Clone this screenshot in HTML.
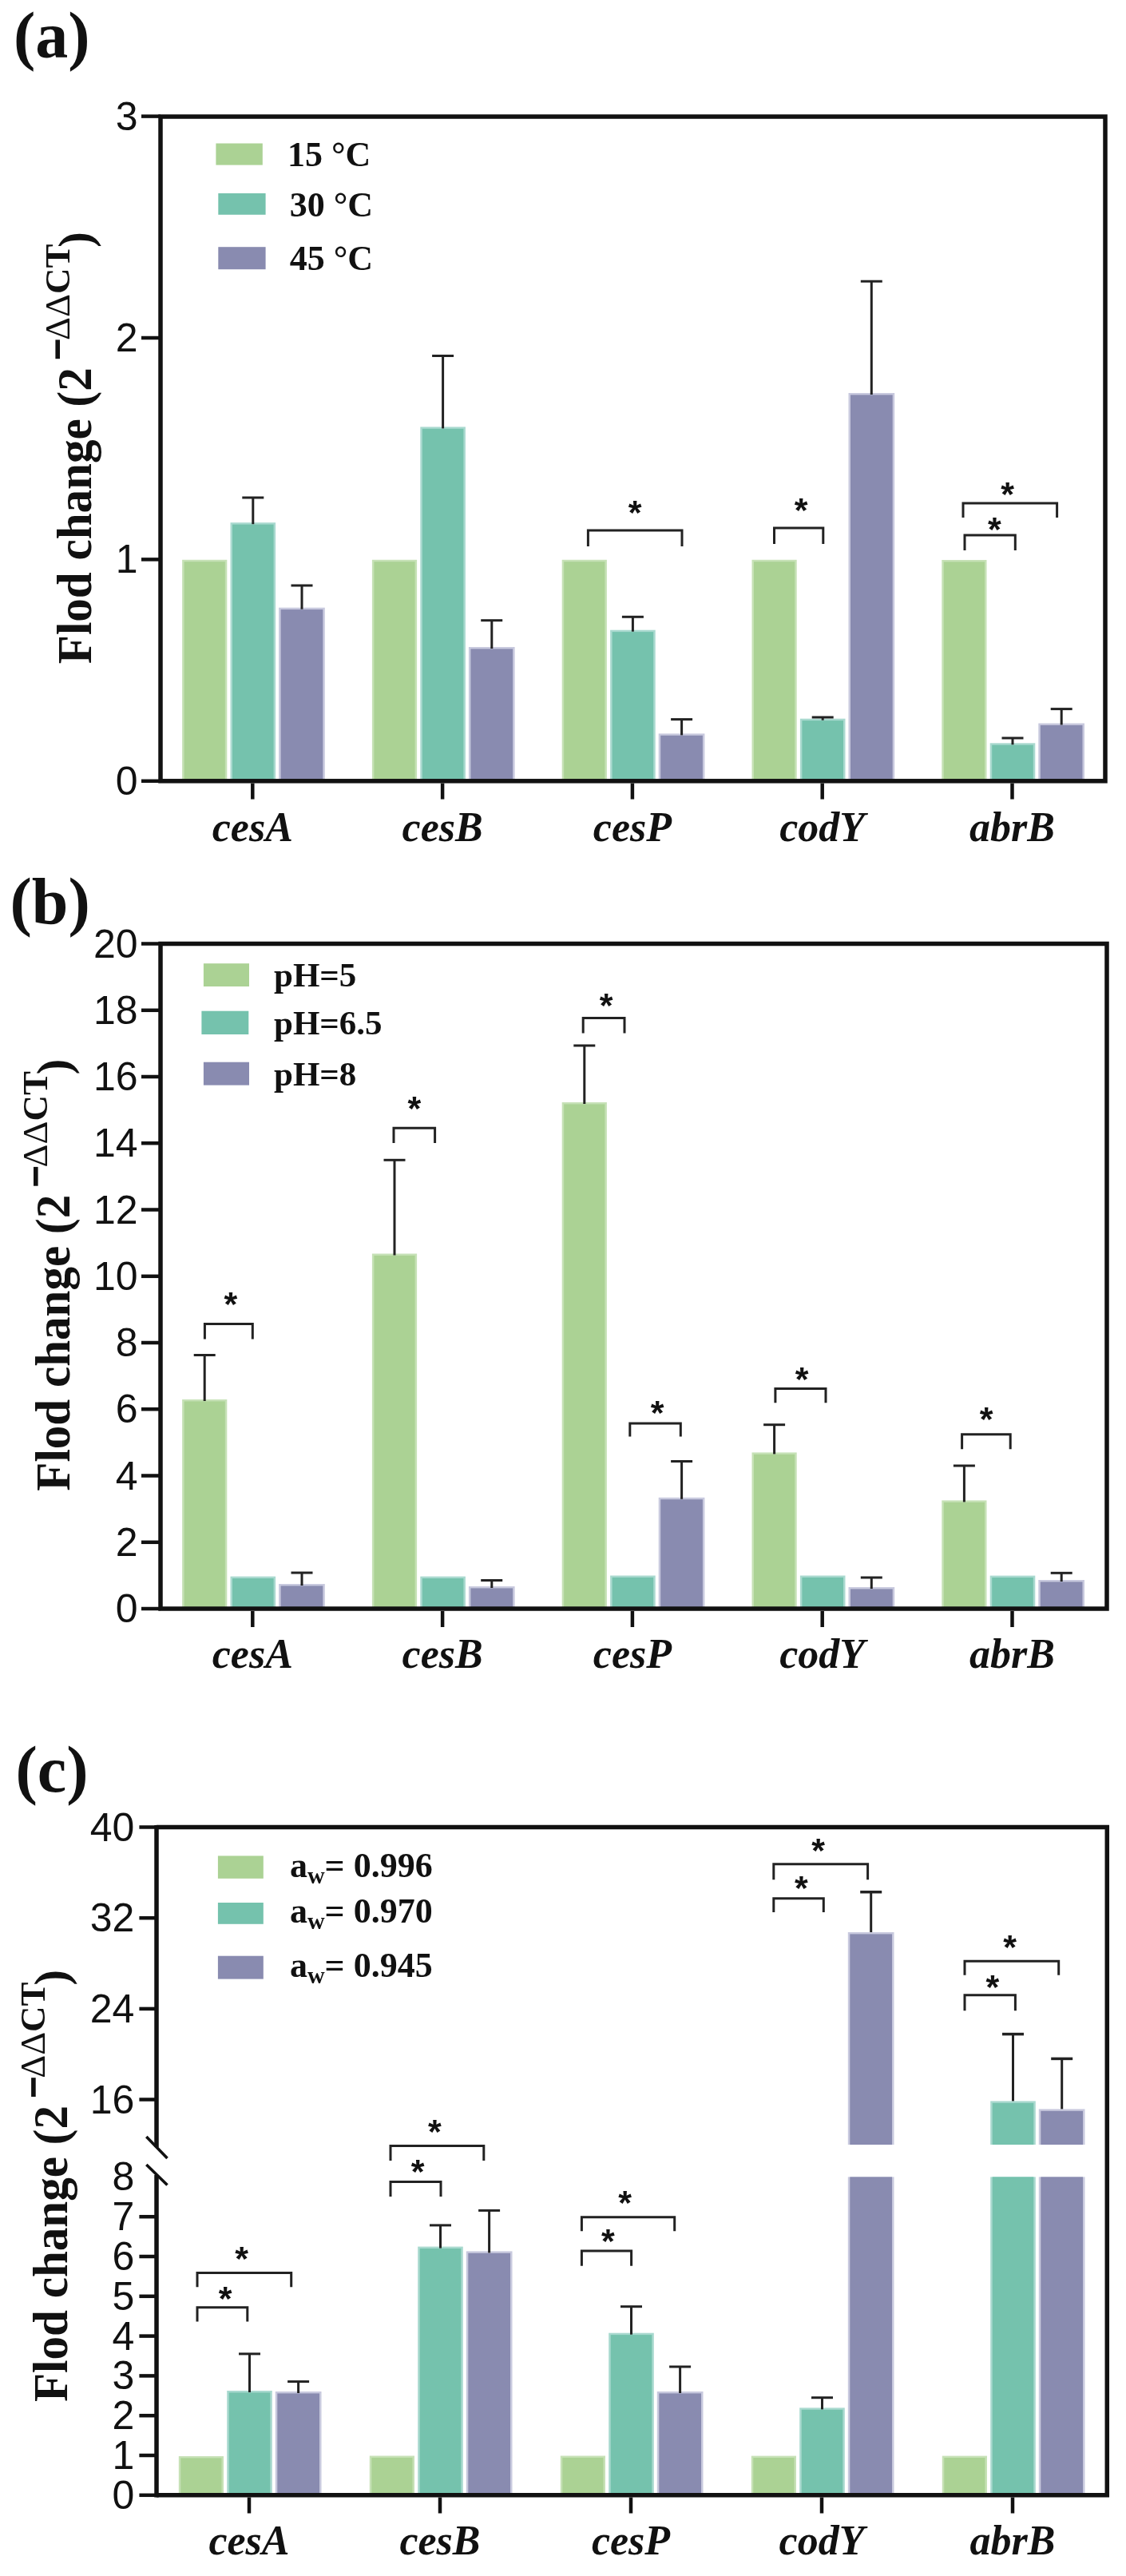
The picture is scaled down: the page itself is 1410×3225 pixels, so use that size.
<!DOCTYPE html>
<html><head><meta charset="utf-8"><title>Fold change</title><style>
html,body{margin:0;padding:0;background:#fff;}
svg{display:block;will-change:transform;}
.yl{font-family:"Liberation Sans",sans-serif;font-size:50px;fill:#111;}
.xl{font-family:"Liberation Serif",serif;font-weight:bold;font-style:italic;font-size:52px;fill:#111;}
.lg{font-family:"Liberation Serif",serif;font-weight:bold;font-size:44px;fill:#111;}
.sub{font-size:30px;}
.lgb{font-size:43px;}
.pl{font-family:"Liberation Serif",serif;font-weight:bold;font-size:82px;fill:#111;}
.yt{font-family:"Liberation Serif",serif;font-weight:bold;font-size:60px;fill:#111;}
.sup{font-family:"Liberation Serif",serif;font-weight:bold;font-size:45px;fill:#111;}
.star{font-family:"Liberation Sans",sans-serif;font-weight:bold;font-size:43px;fill:#111;}
</style></head><body>
<svg width="1410" height="3225" viewBox="0 0 1410 3225">
<rect width="1410" height="3225" fill="#fff"/>
<text x="17.0" y="71.5" class="pl" text-anchor="start" >(a)</text>
<rect x="228.1" y="700.8" width="56.2" height="277.0" fill="#c6e1b6" />
<rect x="230.6" y="703.2" width="51.2" height="274.6" fill="#abd294" />
<rect x="288.5" y="654.2" width="56.6" height="323.6" fill="#a9d9cf" />
<rect x="291.0" y="656.6" width="51.6" height="321.2" fill="#75c2ad" />
<line x1="316.8" y1="656.2" x2="316.8" y2="623.0" stroke="#222" stroke-width="3" />
<line x1="303.3" y1="623.0" x2="330.3" y2="623.0" stroke="#222" stroke-width="3" />
<rect x="349.1" y="760.7" width="57.7" height="217.1" fill="#c8c9de" />
<rect x="351.6" y="763.1" width="52.7" height="214.7" fill="#898bb0" />
<line x1="378.0" y1="762.7" x2="378.0" y2="733.0" stroke="#222" stroke-width="3" />
<line x1="364.5" y1="733.0" x2="391.5" y2="733.0" stroke="#222" stroke-width="3" />
<rect x="465.9" y="700.8" width="56.2" height="277.0" fill="#c6e1b6" />
<rect x="468.4" y="703.2" width="51.2" height="274.6" fill="#abd294" />
<rect x="526.3" y="534.4" width="56.6" height="443.4" fill="#a9d9cf" />
<rect x="528.8" y="536.8" width="51.6" height="441.0" fill="#75c2ad" />
<line x1="554.6" y1="536.4" x2="554.6" y2="445.5" stroke="#222" stroke-width="3" />
<line x1="541.1" y1="445.5" x2="568.1" y2="445.5" stroke="#222" stroke-width="3" />
<rect x="586.9" y="810.0" width="57.7" height="167.8" fill="#c8c9de" />
<rect x="589.4" y="812.4" width="52.7" height="165.4" fill="#898bb0" />
<line x1="615.8" y1="812.0" x2="615.8" y2="776.7" stroke="#222" stroke-width="3" />
<line x1="602.2" y1="776.7" x2="629.2" y2="776.7" stroke="#222" stroke-width="3" />
<rect x="703.7" y="700.8" width="56.2" height="277.0" fill="#c6e1b6" />
<rect x="706.2" y="703.2" width="51.2" height="274.6" fill="#abd294" />
<rect x="764.1" y="788.7" width="56.6" height="189.1" fill="#a9d9cf" />
<rect x="766.6" y="791.1" width="51.6" height="186.7" fill="#75c2ad" />
<line x1="792.4" y1="790.7" x2="792.4" y2="772.3" stroke="#222" stroke-width="3" />
<line x1="778.9" y1="772.3" x2="805.9" y2="772.3" stroke="#222" stroke-width="3" />
<rect x="824.7" y="918.4" width="57.7" height="59.4" fill="#c8c9de" />
<rect x="827.2" y="920.8" width="52.7" height="57.0" fill="#898bb0" />
<line x1="853.6" y1="920.4" x2="853.6" y2="900.6" stroke="#222" stroke-width="3" />
<line x1="840.1" y1="900.6" x2="867.1" y2="900.6" stroke="#222" stroke-width="3" />
<rect x="941.5" y="700.8" width="56.2" height="277.0" fill="#c6e1b6" />
<rect x="944.0" y="703.2" width="51.2" height="274.6" fill="#abd294" />
<rect x="1001.9" y="899.7" width="56.6" height="78.1" fill="#a9d9cf" />
<rect x="1004.4" y="902.1" width="51.6" height="75.7" fill="#75c2ad" />
<line x1="1030.2" y1="901.7" x2="1030.2" y2="898.0" stroke="#222" stroke-width="3" />
<line x1="1016.7" y1="898.0" x2="1043.7" y2="898.0" stroke="#222" stroke-width="3" />
<rect x="1062.5" y="492.0" width="57.7" height="485.8" fill="#c8c9de" />
<rect x="1065.0" y="494.4" width="52.7" height="483.4" fill="#898bb0" />
<line x1="1091.3" y1="494.0" x2="1091.3" y2="352.2" stroke="#222" stroke-width="3" />
<line x1="1077.8" y1="352.2" x2="1104.8" y2="352.2" stroke="#222" stroke-width="3" />
<rect x="1179.3" y="701.0" width="56.2" height="276.8" fill="#c6e1b6" />
<rect x="1181.8" y="703.4" width="51.2" height="274.4" fill="#abd294" />
<rect x="1239.7" y="930.3" width="56.6" height="47.5" fill="#a9d9cf" />
<rect x="1242.2" y="932.7" width="51.6" height="45.1" fill="#75c2ad" />
<line x1="1268.0" y1="932.3" x2="1268.0" y2="924.0" stroke="#222" stroke-width="3" />
<line x1="1254.5" y1="924.0" x2="1281.5" y2="924.0" stroke="#222" stroke-width="3" />
<rect x="1300.3" y="905.5" width="57.7" height="72.3" fill="#c8c9de" />
<rect x="1302.8" y="907.9" width="52.7" height="69.9" fill="#898bb0" />
<line x1="1329.2" y1="907.5" x2="1329.2" y2="887.6" stroke="#222" stroke-width="3" />
<line x1="1315.7" y1="887.6" x2="1342.7" y2="887.6" stroke="#222" stroke-width="3" />
<path d="M736.4 684.0 V664.0 H854.0 V684.0" fill="none" stroke="#222" stroke-width="3"/>
<text x="795.0" y="656.0" class="star" text-anchor="middle" >*</text>
<path d="M969.5 681.0 V661.0 H1030.8 V681.0" fill="none" stroke="#222" stroke-width="3"/>
<text x="1003.0" y="652.9" class="star" text-anchor="middle" >*</text>
<path d="M1208.0 689.0 V670.0 H1271.3 V689.0" fill="none" stroke="#222" stroke-width="3"/>
<text x="1245.4" y="676.9" class="star" text-anchor="middle" >*</text>
<path d="M1206.0 648.0 V630.0 H1323.6 V648.0" fill="none" stroke="#222" stroke-width="3"/>
<text x="1261.6" y="632.8" class="star" text-anchor="middle" >*</text>
<rect x="201.0" y="146.0" width="1183.0" height="831.8" fill="none" stroke="#111" stroke-width="5.5"/>
<line x1="177.0" y1="977.8" x2="201.0" y2="977.8" stroke="#111" stroke-width="4.5" />
<text x="172.5" y="994.8" class="yl" text-anchor="end" >0</text>
<line x1="177.0" y1="700.4" x2="201.0" y2="700.4" stroke="#111" stroke-width="4.5" />
<text x="172.5" y="717.4" class="yl" text-anchor="end" >1</text>
<line x1="177.0" y1="423.0" x2="201.0" y2="423.0" stroke="#111" stroke-width="4.5" />
<text x="172.5" y="440.0" class="yl" text-anchor="end" >2</text>
<line x1="177.0" y1="145.6" x2="201.0" y2="145.6" stroke="#111" stroke-width="4.5" />
<text x="172.5" y="162.6" class="yl" text-anchor="end" >3</text>
<line x1="316.3" y1="980.6" x2="316.3" y2="1000.6" stroke="#111" stroke-width="4.5" />
<text x="316.3" y="1052.5" class="xl" text-anchor="middle" >cesA</text>
<line x1="554.1" y1="980.6" x2="554.1" y2="1000.6" stroke="#111" stroke-width="4.5" />
<text x="554.1" y="1052.5" class="xl" text-anchor="middle" >cesB</text>
<line x1="791.9" y1="980.6" x2="791.9" y2="1000.6" stroke="#111" stroke-width="4.5" />
<text x="791.9" y="1052.5" class="xl" text-anchor="middle" >cesP</text>
<line x1="1029.7" y1="980.6" x2="1029.7" y2="1000.6" stroke="#111" stroke-width="4.5" />
<text x="1029.7" y="1052.5" class="xl" text-anchor="middle" >codY</text>
<line x1="1267.5" y1="980.6" x2="1267.5" y2="1000.6" stroke="#111" stroke-width="4.5" />
<text x="1267.5" y="1052.5" class="xl" text-anchor="middle" >abrB</text>
<rect x="270.4" y="179.5" width="58.4" height="27.1" fill="#abd294" />
<text x="360.0" y="208.4" class="lg" text-anchor="start" >15 °C</text>
<rect x="273.3" y="242.0" width="59.3" height="26.8" fill="#75c2ad" />
<text x="362.7" y="271.0" class="lg" text-anchor="start" >30 °C</text>
<rect x="273.3" y="309.2" width="59.3" height="28.0" fill="#898bb0" />
<text x="362.7" y="337.6" class="lg" text-anchor="start" >45 °C</text>
<text class="yt" transform="translate(114,831.2) rotate(-90) scale(0.985,1.03)">Flod change (2</text>
<rect x="69.4" y="425.4" width="5.6" height="23.8" fill="#111" />
<text class="sup" transform="translate(86.6,426.0) rotate(-90)"><tspan style="font-weight:normal">ΔΔ</tspan>CT</text>
<text class="yt" transform="translate(114,310.0) rotate(-90)">)</text>
<text x="12.5" y="1155.5" class="pl" text-anchor="start" >(b)</text>
<rect x="228.1" y="1752.0" width="56.2" height="262.0" fill="#c6e1b6" />
<rect x="230.6" y="1754.4" width="51.2" height="259.6" fill="#abd294" />
<line x1="256.2" y1="1754.0" x2="256.2" y2="1696.5" stroke="#222" stroke-width="3" />
<line x1="242.7" y1="1696.5" x2="269.7" y2="1696.5" stroke="#222" stroke-width="3" />
<rect x="288.5" y="1973.6" width="56.6" height="40.4" fill="#a9d9cf" />
<rect x="291.0" y="1976.0" width="51.6" height="38.0" fill="#75c2ad" />
<rect x="349.1" y="1983.0" width="57.7" height="31.0" fill="#c8c9de" />
<rect x="351.6" y="1985.4" width="52.7" height="28.6" fill="#898bb0" />
<line x1="378.0" y1="1985.0" x2="378.0" y2="1969.0" stroke="#222" stroke-width="3" />
<line x1="364.5" y1="1969.0" x2="391.5" y2="1969.0" stroke="#222" stroke-width="3" />
<rect x="465.9" y="1569.5" width="56.2" height="444.5" fill="#c6e1b6" />
<rect x="468.4" y="1571.9" width="51.2" height="442.1" fill="#abd294" />
<line x1="494.0" y1="1571.5" x2="494.0" y2="1452.3" stroke="#222" stroke-width="3" />
<line x1="480.5" y1="1452.3" x2="507.5" y2="1452.3" stroke="#222" stroke-width="3" />
<rect x="526.3" y="1973.6" width="56.6" height="40.4" fill="#a9d9cf" />
<rect x="528.8" y="1976.0" width="51.6" height="38.0" fill="#75c2ad" />
<rect x="586.9" y="1986.0" width="57.7" height="28.0" fill="#c8c9de" />
<rect x="589.4" y="1988.4" width="52.7" height="25.6" fill="#898bb0" />
<line x1="615.8" y1="1988.0" x2="615.8" y2="1978.5" stroke="#222" stroke-width="3" />
<line x1="602.2" y1="1978.5" x2="629.2" y2="1978.5" stroke="#222" stroke-width="3" />
<rect x="703.7" y="1380.0" width="56.2" height="634.0" fill="#c6e1b6" />
<rect x="706.2" y="1382.4" width="51.2" height="631.6" fill="#abd294" />
<line x1="731.8" y1="1382.0" x2="731.8" y2="1309.0" stroke="#222" stroke-width="3" />
<line x1="718.3" y1="1309.0" x2="745.3" y2="1309.0" stroke="#222" stroke-width="3" />
<rect x="764.1" y="1972.5" width="56.6" height="41.5" fill="#a9d9cf" />
<rect x="766.6" y="1974.9" width="51.6" height="39.1" fill="#75c2ad" />
<rect x="824.7" y="1874.8" width="57.7" height="139.2" fill="#c8c9de" />
<rect x="827.2" y="1877.2" width="52.7" height="136.8" fill="#898bb0" />
<line x1="853.6" y1="1876.8" x2="853.6" y2="1829.5" stroke="#222" stroke-width="3" />
<line x1="840.1" y1="1829.5" x2="867.1" y2="1829.5" stroke="#222" stroke-width="3" />
<rect x="941.5" y="1818.4" width="56.2" height="195.6" fill="#c6e1b6" />
<rect x="944.0" y="1820.8" width="51.2" height="193.2" fill="#abd294" />
<line x1="969.6" y1="1820.4" x2="969.6" y2="1783.7" stroke="#222" stroke-width="3" />
<line x1="956.1" y1="1783.7" x2="983.1" y2="1783.7" stroke="#222" stroke-width="3" />
<rect x="1001.9" y="1972.5" width="56.6" height="41.5" fill="#a9d9cf" />
<rect x="1004.4" y="1974.9" width="51.6" height="39.1" fill="#75c2ad" />
<rect x="1062.5" y="1987.0" width="57.7" height="27.0" fill="#c8c9de" />
<rect x="1065.0" y="1989.4" width="52.7" height="24.6" fill="#898bb0" />
<line x1="1091.3" y1="1989.0" x2="1091.3" y2="1975.0" stroke="#222" stroke-width="3" />
<line x1="1077.8" y1="1975.0" x2="1104.8" y2="1975.0" stroke="#222" stroke-width="3" />
<rect x="1179.3" y="1878.4" width="56.2" height="135.6" fill="#c6e1b6" />
<rect x="1181.8" y="1880.8" width="51.2" height="133.2" fill="#abd294" />
<line x1="1207.4" y1="1880.4" x2="1207.4" y2="1835.0" stroke="#222" stroke-width="3" />
<line x1="1193.9" y1="1835.0" x2="1220.9" y2="1835.0" stroke="#222" stroke-width="3" />
<rect x="1239.7" y="1972.6" width="56.6" height="41.4" fill="#a9d9cf" />
<rect x="1242.2" y="1975.0" width="51.6" height="39.0" fill="#75c2ad" />
<rect x="1300.3" y="1978.0" width="57.7" height="36.0" fill="#c8c9de" />
<rect x="1302.8" y="1980.4" width="52.7" height="33.6" fill="#898bb0" />
<line x1="1329.2" y1="1980.0" x2="1329.2" y2="1969.3" stroke="#222" stroke-width="3" />
<line x1="1315.7" y1="1969.3" x2="1342.7" y2="1969.3" stroke="#222" stroke-width="3" />
<path d="M256.4 1676.6 V1657.5 H316.3 V1676.6" fill="none" stroke="#222" stroke-width="3"/>
<text x="288.8" y="1646.9" class="star" text-anchor="middle" >*</text>
<path d="M493.0 1431.0 V1412.3 H544.6 V1431.0" fill="none" stroke="#222" stroke-width="3"/>
<text x="518.8" y="1401.8" class="star" text-anchor="middle" >*</text>
<path d="M730.2 1293.5 V1274.4 H782.0 V1293.5" fill="none" stroke="#222" stroke-width="3"/>
<text x="759.0" y="1272.7" class="star" text-anchor="middle" >*</text>
<path d="M788.8 1798.4 V1782.0 H852.3 V1798.4" fill="none" stroke="#222" stroke-width="3"/>
<text x="823.0" y="1783.4" class="star" text-anchor="middle" >*</text>
<path d="M970.9 1756.2 V1738.4 H1034.0 V1756.2" fill="none" stroke="#222" stroke-width="3"/>
<text x="1004.2" y="1741.2" class="star" text-anchor="middle" >*</text>
<path d="M1204.6 1814.3 V1795.8 H1265.2 V1814.3" fill="none" stroke="#222" stroke-width="3"/>
<text x="1235.0" y="1790.7" class="star" text-anchor="middle" >*</text>
<rect x="201.0" y="1181.5" width="1185.0" height="832.5" fill="none" stroke="#111" stroke-width="5.5"/>
<line x1="177.0" y1="2014.0" x2="201.0" y2="2014.0" stroke="#111" stroke-width="4.5" />
<text x="172.5" y="2031.0" class="yl" text-anchor="end" >0</text>
<line x1="177.0" y1="1930.8" x2="201.0" y2="1930.8" stroke="#111" stroke-width="4.5" />
<text x="172.5" y="1947.8" class="yl" text-anchor="end" >2</text>
<line x1="177.0" y1="1847.5" x2="201.0" y2="1847.5" stroke="#111" stroke-width="4.5" />
<text x="172.5" y="1864.5" class="yl" text-anchor="end" >4</text>
<line x1="177.0" y1="1764.2" x2="201.0" y2="1764.2" stroke="#111" stroke-width="4.5" />
<text x="172.5" y="1781.2" class="yl" text-anchor="end" >6</text>
<line x1="177.0" y1="1681.0" x2="201.0" y2="1681.0" stroke="#111" stroke-width="4.5" />
<text x="172.5" y="1698.0" class="yl" text-anchor="end" >8</text>
<line x1="177.0" y1="1597.8" x2="201.0" y2="1597.8" stroke="#111" stroke-width="4.5" />
<text x="172.5" y="1614.8" class="yl" text-anchor="end" >10</text>
<line x1="177.0" y1="1514.5" x2="201.0" y2="1514.5" stroke="#111" stroke-width="4.5" />
<text x="172.5" y="1531.5" class="yl" text-anchor="end" >12</text>
<line x1="177.0" y1="1431.2" x2="201.0" y2="1431.2" stroke="#111" stroke-width="4.5" />
<text x="172.5" y="1448.2" class="yl" text-anchor="end" >14</text>
<line x1="177.0" y1="1348.0" x2="201.0" y2="1348.0" stroke="#111" stroke-width="4.5" />
<text x="172.5" y="1365.0" class="yl" text-anchor="end" >16</text>
<line x1="177.0" y1="1264.8" x2="201.0" y2="1264.8" stroke="#111" stroke-width="4.5" />
<text x="172.5" y="1281.8" class="yl" text-anchor="end" >18</text>
<line x1="177.0" y1="1181.5" x2="201.0" y2="1181.5" stroke="#111" stroke-width="4.5" />
<text x="172.5" y="1198.5" class="yl" text-anchor="end" >20</text>
<line x1="316.3" y1="2017.0" x2="316.3" y2="2037.0" stroke="#111" stroke-width="4.5" />
<text x="316.3" y="2088.0" class="xl" text-anchor="middle" >cesA</text>
<line x1="554.1" y1="2017.0" x2="554.1" y2="2037.0" stroke="#111" stroke-width="4.5" />
<text x="554.1" y="2088.0" class="xl" text-anchor="middle" >cesB</text>
<line x1="791.9" y1="2017.0" x2="791.9" y2="2037.0" stroke="#111" stroke-width="4.5" />
<text x="791.9" y="2088.0" class="xl" text-anchor="middle" >cesP</text>
<line x1="1029.7" y1="2017.0" x2="1029.7" y2="2037.0" stroke="#111" stroke-width="4.5" />
<text x="1029.7" y="2088.0" class="xl" text-anchor="middle" >codY</text>
<line x1="1267.5" y1="2017.0" x2="1267.5" y2="2037.0" stroke="#111" stroke-width="4.5" />
<text x="1267.5" y="2088.0" class="xl" text-anchor="middle" >abrB</text>
<rect x="254.9" y="1206.2" width="57.1" height="28.8" fill="#abd294" />
<text x="343.0" y="1235.0" class="lg lgb" text-anchor="start" >pH=5</text>
<rect x="252.4" y="1265.7" width="58.9" height="29.3" fill="#75c2ad" />
<text x="343.0" y="1295.0" class="lg lgb" text-anchor="start" >pH=6.5</text>
<rect x="254.9" y="1329.7" width="57.1" height="28.9" fill="#898bb0" />
<text x="343.0" y="1358.6" class="lg lgb" text-anchor="start" >pH=8</text>
<text class="yt" transform="translate(86.6,1866.7) rotate(-90) scale(0.985,1.03)">Flod change (2</text>
<rect x="42.0" y="1460.9" width="5.6" height="23.8" fill="#111" />
<text class="sup" transform="translate(59.2,1461.5) rotate(-90)"><tspan style="font-weight:normal">ΔΔ</tspan>CT</text>
<text class="yt" transform="translate(86.6,1345.5) rotate(-90)">)</text>
<text x="19.5" y="2243.0" class="pl" text-anchor="start" >(c)</text>
<rect x="223.8" y="3075.0" width="56.2" height="48.8" fill="#c6e1b6" />
<rect x="226.3" y="3077.4" width="51.2" height="46.4" fill="#abd294" />
<rect x="284.2" y="2993.0" width="56.6" height="130.8" fill="#a9d9cf" />
<rect x="286.7" y="2995.4" width="51.6" height="128.4" fill="#75c2ad" />
<line x1="312.5" y1="2995.0" x2="312.5" y2="2946.9" stroke="#222" stroke-width="3" />
<line x1="299.0" y1="2946.9" x2="326.0" y2="2946.9" stroke="#222" stroke-width="3" />
<rect x="344.8" y="2994.0" width="57.7" height="129.8" fill="#c8c9de" />
<rect x="347.3" y="2996.4" width="52.7" height="127.4" fill="#898bb0" />
<line x1="373.6" y1="2996.0" x2="373.6" y2="2981.6" stroke="#222" stroke-width="3" />
<line x1="360.1" y1="2981.6" x2="387.1" y2="2981.6" stroke="#222" stroke-width="3" />
<rect x="462.8" y="3074.5" width="56.2" height="49.3" fill="#c6e1b6" />
<rect x="465.3" y="3076.9" width="51.2" height="46.9" fill="#abd294" />
<rect x="523.2" y="2812.6" width="56.6" height="311.2" fill="#a9d9cf" />
<rect x="525.7" y="2815.0" width="51.6" height="308.8" fill="#75c2ad" />
<line x1="551.5" y1="2814.6" x2="551.5" y2="2785.9" stroke="#222" stroke-width="3" />
<line x1="538.0" y1="2785.9" x2="565.0" y2="2785.9" stroke="#222" stroke-width="3" />
<rect x="583.8" y="2818.4" width="57.7" height="305.4" fill="#c8c9de" />
<rect x="586.3" y="2820.8" width="52.7" height="303.0" fill="#898bb0" />
<line x1="612.6" y1="2820.4" x2="612.6" y2="2767.4" stroke="#222" stroke-width="3" />
<line x1="599.1" y1="2767.4" x2="626.1" y2="2767.4" stroke="#222" stroke-width="3" />
<rect x="701.8" y="3074.5" width="56.2" height="49.3" fill="#c6e1b6" />
<rect x="704.3" y="3076.9" width="51.2" height="46.9" fill="#abd294" />
<rect x="762.2" y="2920.7" width="56.6" height="203.1" fill="#a9d9cf" />
<rect x="764.7" y="2923.1" width="51.6" height="200.7" fill="#75c2ad" />
<line x1="790.5" y1="2922.7" x2="790.5" y2="2887.7" stroke="#222" stroke-width="3" />
<line x1="777.0" y1="2887.7" x2="804.0" y2="2887.7" stroke="#222" stroke-width="3" />
<rect x="822.8" y="2994.0" width="57.7" height="129.8" fill="#c8c9de" />
<rect x="825.3" y="2996.4" width="52.7" height="127.4" fill="#898bb0" />
<line x1="851.6" y1="2996.0" x2="851.6" y2="2963.0" stroke="#222" stroke-width="3" />
<line x1="838.1" y1="2963.0" x2="865.1" y2="2963.0" stroke="#222" stroke-width="3" />
<rect x="940.8" y="3074.6" width="56.2" height="49.2" fill="#c6e1b6" />
<rect x="943.3" y="3077.0" width="51.2" height="46.8" fill="#abd294" />
<rect x="1001.2" y="3014.4" width="56.6" height="109.4" fill="#a9d9cf" />
<rect x="1003.7" y="3016.8" width="51.6" height="107.0" fill="#75c2ad" />
<line x1="1029.5" y1="3016.4" x2="1029.5" y2="3001.7" stroke="#222" stroke-width="3" />
<line x1="1016.0" y1="3001.7" x2="1043.0" y2="3001.7" stroke="#222" stroke-width="3" />
<rect x="1179.8" y="3074.6" width="56.2" height="49.2" fill="#c6e1b6" />
<rect x="1182.3" y="3077.0" width="51.2" height="46.8" fill="#abd294" />
<rect x="1061.8" y="2419.0" width="57.7" height="266.0" fill="#c8c9de" />
<rect x="1064.3" y="2421.4" width="52.7" height="263.6" fill="#898bb0" />
<rect x="1061.8" y="2725.4" width="57.7" height="398.4" fill="#c8c9de" />
<rect x="1064.3" y="2725.4" width="52.7" height="398.4" fill="#898bb0" />
<line x1="1090.7" y1="2419.0" x2="1090.7" y2="2368.7" stroke="#222" stroke-width="3" />
<line x1="1077.2" y1="2368.7" x2="1104.2" y2="2368.7" stroke="#222" stroke-width="3.5" />
<rect x="1240.2" y="2630.4" width="56.6" height="54.6" fill="#a9d9cf" />
<rect x="1242.7" y="2632.8" width="51.6" height="52.2" fill="#75c2ad" />
<rect x="1240.2" y="2725.4" width="56.6" height="398.4" fill="#a9d9cf" />
<rect x="1242.7" y="2725.4" width="51.6" height="398.4" fill="#75c2ad" />
<line x1="1268.5" y1="2630.4" x2="1268.5" y2="2546.6" stroke="#222" stroke-width="3" />
<line x1="1255.0" y1="2546.6" x2="1282.0" y2="2546.6" stroke="#222" stroke-width="3.5" />
<rect x="1300.8" y="2640.4" width="57.7" height="44.6" fill="#c8c9de" />
<rect x="1303.3" y="2642.8" width="52.7" height="42.2" fill="#898bb0" />
<rect x="1300.8" y="2725.4" width="57.7" height="398.4" fill="#c8c9de" />
<rect x="1303.3" y="2725.4" width="52.7" height="398.4" fill="#898bb0" />
<line x1="1329.7" y1="2640.4" x2="1329.7" y2="2577.4" stroke="#222" stroke-width="3" />
<line x1="1316.2" y1="2577.4" x2="1343.2" y2="2577.4" stroke="#222" stroke-width="3.5" />
<path d="M247.0 2906.5 V2888.7 H309.8 V2906.5" fill="none" stroke="#222" stroke-width="3"/>
<text x="282.0" y="2891.5" class="star" text-anchor="middle" >*</text>
<path d="M247.0 2863.2 V2845.4 H364.7 V2863.2" fill="none" stroke="#222" stroke-width="3"/>
<text x="302.5" y="2841.5" class="star" text-anchor="middle" >*</text>
<path d="M489.0 2750.0 V2731.6 H552.0 V2750.0" fill="none" stroke="#222" stroke-width="3"/>
<text x="523.1" y="2732.5" class="star" text-anchor="middle" >*</text>
<path d="M489.0 2705.0 V2686.6 H605.8 V2705.0" fill="none" stroke="#222" stroke-width="3"/>
<text x="544.4" y="2682.8" class="star" text-anchor="middle" >*</text>
<path d="M728.4 2836.8 V2818.1 H790.6 V2836.8" fill="none" stroke="#222" stroke-width="3"/>
<text x="761.4" y="2820.0" class="star" text-anchor="middle" >*</text>
<path d="M728.4 2793.2 V2775.8 H844.7 V2793.2" fill="none" stroke="#222" stroke-width="3"/>
<text x="782.5" y="2771.5" class="star" text-anchor="middle" >*</text>
<path d="M968.8 2394.0 V2376.8 H1031.3 V2394.0" fill="none" stroke="#222" stroke-width="3"/>
<text x="1003.3" y="2377.8" class="star" text-anchor="middle" >*</text>
<path d="M968.8 2353.3 V2333.8 H1086.6 V2353.3" fill="none" stroke="#222" stroke-width="3"/>
<text x="1024.5" y="2330.7" class="star" text-anchor="middle" >*</text>
<path d="M1208.0 2517.2 V2497.7 H1271.4 V2517.2" fill="none" stroke="#222" stroke-width="3"/>
<text x="1242.8" y="2501.5" class="star" text-anchor="middle" >*</text>
<path d="M1208.0 2472.8 V2455.2 H1325.7 V2472.8" fill="none" stroke="#222" stroke-width="3"/>
<text x="1264.6" y="2451.7" class="star" text-anchor="middle" >*</text>
<path d="M196 2287.5 H1386.3 V3123.8 H196" fill="none" stroke="#111" stroke-width="5.5"/>
<line x1="196.0" y1="2285.0" x2="196.0" y2="2688.0" stroke="#111" stroke-width="5.5" />
<line x1="196.0" y1="2723.0" x2="196.0" y2="3126.5" stroke="#111" stroke-width="5.5" />
<line x1="183.3" y1="2675.0" x2="209.5" y2="2702.0" stroke="#111" stroke-width="3.6" />
<line x1="183.3" y1="2710.0" x2="209.5" y2="2735.5" stroke="#111" stroke-width="3.6" />
<line x1="174.4" y1="2287.5" x2="196.0" y2="2287.5" stroke="#111" stroke-width="4.5" />
<text x="168.4" y="2304.5" class="yl" text-anchor="end" >40</text>
<line x1="174.4" y1="2401.2" x2="196.0" y2="2401.2" stroke="#111" stroke-width="4.5" />
<text x="168.4" y="2418.2" class="yl" text-anchor="end" >32</text>
<line x1="174.4" y1="2514.9" x2="196.0" y2="2514.9" stroke="#111" stroke-width="4.5" />
<text x="168.4" y="2531.9" class="yl" text-anchor="end" >24</text>
<line x1="174.4" y1="2628.5" x2="196.0" y2="2628.5" stroke="#111" stroke-width="4.5" />
<text x="168.4" y="2645.5" class="yl" text-anchor="end" >16</text>
<line x1="174.4" y1="3123.8" x2="196.0" y2="3123.8" stroke="#111" stroke-width="4.5" />
<text x="168.4" y="3140.8" class="yl" text-anchor="end" >0</text>
<line x1="174.4" y1="3074.0" x2="196.0" y2="3074.0" stroke="#111" stroke-width="4.5" />
<text x="168.4" y="3091.0" class="yl" text-anchor="end" >1</text>
<line x1="174.4" y1="3024.2" x2="196.0" y2="3024.2" stroke="#111" stroke-width="4.5" />
<text x="168.4" y="3041.2" class="yl" text-anchor="end" >2</text>
<line x1="174.4" y1="2974.4" x2="196.0" y2="2974.4" stroke="#111" stroke-width="4.5" />
<text x="168.4" y="2991.4" class="yl" text-anchor="end" >3</text>
<line x1="174.4" y1="2924.6" x2="196.0" y2="2924.6" stroke="#111" stroke-width="4.5" />
<text x="168.4" y="2941.6" class="yl" text-anchor="end" >4</text>
<line x1="174.4" y1="2874.8" x2="196.0" y2="2874.8" stroke="#111" stroke-width="4.5" />
<text x="168.4" y="2891.8" class="yl" text-anchor="end" >5</text>
<line x1="174.4" y1="2825.0" x2="196.0" y2="2825.0" stroke="#111" stroke-width="4.5" />
<text x="168.4" y="2842.0" class="yl" text-anchor="end" >6</text>
<line x1="174.4" y1="2775.2" x2="196.0" y2="2775.2" stroke="#111" stroke-width="4.5" />
<text x="168.4" y="2792.2" class="yl" text-anchor="end" >7</text>
<text x="168.4" y="2742.4" class="yl" text-anchor="end" >8</text>
<line x1="312.0" y1="3126.5" x2="312.0" y2="3146.5" stroke="#111" stroke-width="4.5" />
<text x="312.0" y="3198.0" class="xl" text-anchor="middle" >cesA</text>
<line x1="551.0" y1="3126.5" x2="551.0" y2="3146.5" stroke="#111" stroke-width="4.5" />
<text x="551.0" y="3198.0" class="xl" text-anchor="middle" >cesB</text>
<line x1="790.0" y1="3126.5" x2="790.0" y2="3146.5" stroke="#111" stroke-width="4.5" />
<text x="790.0" y="3198.0" class="xl" text-anchor="middle" >cesP</text>
<line x1="1029.0" y1="3126.5" x2="1029.0" y2="3146.5" stroke="#111" stroke-width="4.5" />
<text x="1029.0" y="3198.0" class="xl" text-anchor="middle" >codY</text>
<line x1="1268.0" y1="3126.5" x2="1268.0" y2="3146.5" stroke="#111" stroke-width="4.5" />
<text x="1268.0" y="3198.0" class="xl" text-anchor="middle" >abrB</text>
<rect x="272.9" y="2323.4" width="56.9" height="28.4" fill="#abd294" />
<rect x="272.9" y="2382.0" width="56.9" height="26.8" fill="#75c2ad" />
<rect x="272.9" y="2448.7" width="56.9" height="28.9" fill="#898bb0" />
<text x="362.9" y="2349.8" class="lg">a<tspan class="sub" dy="8">w</tspan><tspan dy="-8">= 0.996</tspan></text>
<text x="362.9" y="2407.4" class="lg">a<tspan class="sub" dy="8">w</tspan><tspan dy="-8">= 0.970</tspan></text>
<text x="362.9" y="2474.8" class="lg">a<tspan class="sub" dy="8">w</tspan><tspan dy="-8">= 0.945</tspan></text>
<text class="yt" transform="translate(83.7,3007.0) rotate(-90) scale(0.985,1.03)">Flod change (2</text>
<rect x="39.1" y="2601.2" width="5.6" height="23.8" fill="#111" />
<text class="sup" transform="translate(56.3,2601.8) rotate(-90)"><tspan style="font-weight:normal">ΔΔ</tspan>CT</text>
<text class="yt" transform="translate(83.7,2485.8) rotate(-90)">)</text>
</svg>
</body></html>
